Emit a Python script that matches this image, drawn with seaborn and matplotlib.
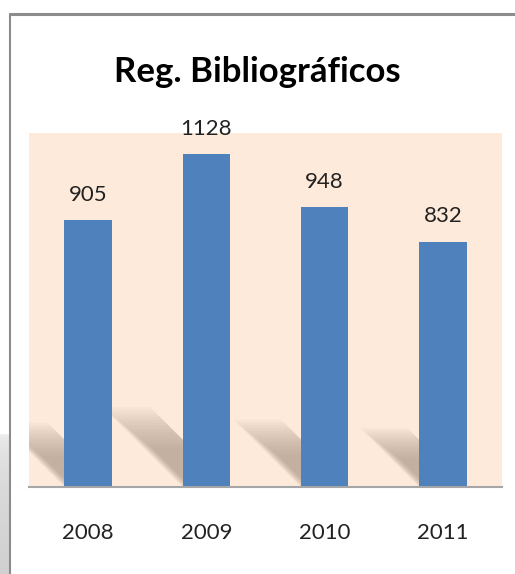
import numpy as np
import pandas as pd
import matplotlib
matplotlib.use("Agg")
import matplotlib.pyplot as plt
from matplotlib.lines import Line2D
from matplotlib.patches import Polygon
import seaborn as sns

# --- data ---
years = ["2008", "2009", "2010", "2011"]
registros = [905, 1128, 948, 832]
title = "Reg. Bibliográficos"

BAR_COLOR = "#4F81BD"
BG_COLOR = "#FDEADA"
SHADOW_COLOR = "#A89484"
W, H = 515, 574

sns.set_style("white")
plt.rcParams["font.family"] = ["Lato", "DejaVu Sans"]

df = pd.DataFrame({"year": years, "value": registros})

fig = plt.figure(figsize=(W / 100, H / 100), dpi=100)
ax = fig.add_axes([29 / W, (H - 487) / H, 473 / W, 354 / H])
ax.set_facecolor(BG_COLOR)

sns.barplot(data=df, x="year", y="value", color=BAR_COLOR, width=0.4,
            saturation=1, linewidth=0, ax=ax, zorder=3)
ax.set_ylim(0, 1200)
ax.set_xlim(-0.5, len(years) - 0.5)

# soft slanted shadows behind each bar (decoration)
px_x = 473 / len(years)
px_y = 354 / 1200
bar_w = 0.4
n_layers = 14
for i, v in enumerate(registros):
    h = 0.24 * v
    dx = h * px_y / px_x
    left, right = i - bar_w / 2, i + bar_w / 2
    for k in range(n_layers):
        s = k / n_layers
        top = h * (1 - 0.55 * s)
        frac = top / h
        pad = 0.08 * s
        poly = Polygon(
            [(left + pad, 0), (right, 0),
             (right - dx * frac, top), (left - dx * frac + pad, top)],
            closed=True, facecolor=SHADOW_COLOR, edgecolor="none", alpha=0.065, zorder=1,
        )
        ax.add_patch(poly)

for i, v in enumerate(registros):
    ax.annotate(f"{v}", (i, v), xytext=(0, 11), textcoords="offset points",
                ha="center", va="bottom", fontsize=16, color="#222222")

ax.set_xlabel("")
ax.set_ylabel("")
ax.set_yticks([])
ax.tick_params(axis="x", length=0, pad=26, labelsize=16, labelcolor="#222222")
for side in ["top", "left", "right"]:
    ax.spines[side].set_visible(False)
ax.spines["bottom"].set_color("#A6A6A6")
ax.spines["bottom"].set_linewidth(1.5)
ax.spines["bottom"].set_zorder(4)

fig.text(0.5, 1 - 72 / H, title, ha="center", va="center",
         fontsize=25, fontweight="bold", color="#000000")

# outer frame lines
fig.add_artist(Line2D([10 / W, 1], [1 - 14 / H, 1 - 14 / H], color="#8C8C8C", lw=2.2))
fig.add_artist(Line2D([10 / W, 10 / W], [0, 1 - 14 / H], color="#8C8C8C", lw=1.5))

# faint grey shade at the lower left edge
sax = fig.add_axes([0, 0, 9 / W, 140 / H])
grad = np.linspace(0, 1, 100).reshape(-1, 1) ** 0.4
sax.imshow(grad, aspect="auto", cmap=sns.light_palette("#D0D0D0", as_cmap=True),
           origin="upper")
sax.axis("off")

fig.savefig("out.png", dpi=100, facecolor="white")
